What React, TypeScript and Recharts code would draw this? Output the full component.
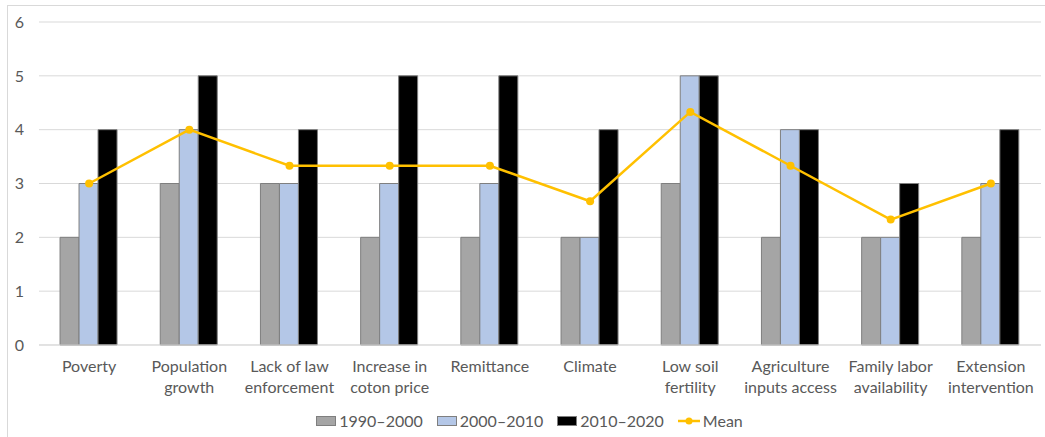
import {
  ComposedChart,
  Bar,
  Line,
  XAxis,
  YAxis,
  CartesianGrid,
  Legend,
} from "recharts";

const categories = [
  "Poverty",
  "Population\ngrowth",
  "Lack of law\nenforcement",
  "Increase in\ncoton price",
  "Remittance",
  "Climate",
  "Low soil\nfertility",
  "Agriculture\ninputs access",
  "Family labor\navailability",
  "Extension\nintervention",
];

const s1990 = [2, 3, 3, 2, 2, 2, 3, 2, 2, 2];
const s2000 = [3, 4, 3, 3, 3, 2, 5, 4, 2, 3];
const s2010 = [4, 5, 4, 5, 5, 4, 5, 4, 3, 4];
const mean = [3, 4, 3.33, 3.33, 3.33, 2.67, 4.33, 3.33, 2.33, 3];

const yTicks = [0, 1, 2, 3, 4, 5, 6];

const data = categories.map((c, i) => ({
  name: c,
  a: s1990[i],
  b: s2000[i],
  c: s2010[i],
  mean: mean[i],
}));

const FONT = "Lato, 'Noto Sans', sans-serif";
const TEXT = "#595959";

const CategoryTick = ({ x, y, payload }: any) => {
  const lines = String(payload.value).split("\n");
  return (
    <text x={x} y={y} textAnchor="middle" fill={TEXT} fontSize={16} fontFamily={FONT}>
      {lines.map((l, i) => (
        <tspan key={i} x={x} dy={i === 0 ? 19 : 21}>
          {l}
        </tspan>
      ))}
    </text>
  );
};

const LegendContent = ({ payload }: any) => (
  <div
    style={{
      display: "flex",
      justifyContent: "center",
      gap: 14,
      paddingTop: 4,
      paddingLeft: 18,
      fontFamily: FONT,
      fontSize: 16,
      color: TEXT,
    }}
  >
    {(payload || []).map((p: any, i: number) => (
      <div key={i} style={{ display: "flex", alignItems: "center", gap: 3 }}>
        {p.type === "line" ? (
          <svg width={22} height={10}>
            <line x1={0} y1={5} x2={22} y2={5} stroke="#ffc000" strokeWidth={2.5} />
            <circle cx={11} cy={5} r={3.5} fill="#ffc000" />
          </svg>
        ) : (
          <svg width={20} height={10}>
            <rect x={0.5} y={0.5} width={19} height={9} fill={p.color} stroke="#7f7f7f" strokeWidth={1} />
          </svg>
        )}
        <span>{p.value}</span>
      </div>
    ))}
  </div>
);

export default function App() {
  return (
    <div style={{ position: "absolute", left: 0, top: 0, width: 1045, height: 437, background: "#fff" }}>
      <div
        style={{
          position: "absolute",
          left: 7,
          top: 5,
          width: 1045,
          height: 437,
          border: "1px solid #d9d9d9",
          boxSizing: "border-box",
        }}
      />
      <ComposedChart
        width={1045}
        height={437}
        data={data}
        margin={{ top: 22, right: 4, left: 0, bottom: 0 }}
        barCategoryGap="21%"
        barGap={0}
        style={{ position: "absolute", left: 0, top: 0 }}
      >
        <CartesianGrid vertical={false} stroke="#d9d9d9" />
        <XAxis
          dataKey="name"
          tick={<CategoryTick />}
          tickLine={false}
          axisLine={{ stroke: "#d9d9d9" }}
          height={62}
          interval={0}
        />
        <YAxis
          domain={[0, 6]}
          ticks={yTicks}
          width={39}
          tickLine={false}
          axisLine={false}
          tickMargin={9}
          tick={{ fill: TEXT, fontSize: 16, fontFamily: FONT }}
        />
        <Legend
          verticalAlign="bottom"
          height={30}
          content={<LegendContent />}
        />
        <Bar dataKey="a" name="1990–2000" fill="#a5a5a5" stroke="#7f7f7f" strokeWidth={1} isAnimationActive={false} />
        <Bar dataKey="b" name="2000–2010" fill="#b4c7e7" stroke="#7f7f7f" strokeWidth={1} isAnimationActive={false} />
        <Bar dataKey="c" name="2010–2020" fill="#000000" stroke="#7f7f7f" strokeWidth={1} isAnimationActive={false} />
        <Line
          dataKey="mean"
          name="Mean"
          type="linear"
          stroke="#ffc000"
          strokeWidth={2.5}
          dot={{ r: 4, fill: "#ffc000", stroke: "#ffc000", strokeWidth: 0 }}
          legendType="line"
          isAnimationActive={false}
        />
      </ComposedChart>
    </div>
  );
}
